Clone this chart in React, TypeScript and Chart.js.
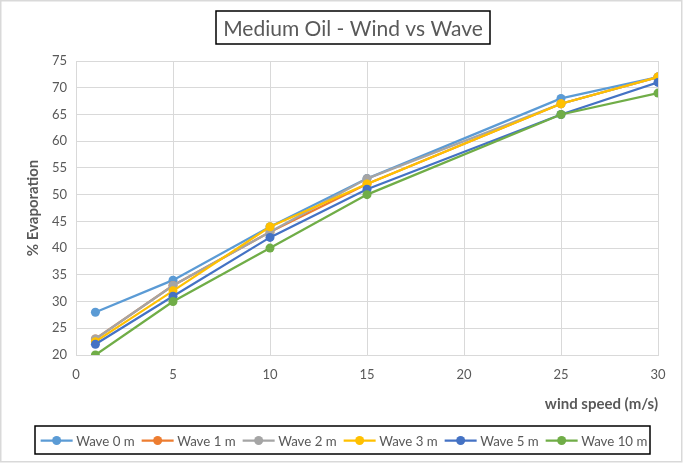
import React, { useEffect, useRef } from "react";
import { Chart, registerables } from "chart.js";

Chart.register(...registerables);

const TITLE = "Medium Oil - Wind vs Wave";
const X_TITLE = "wind speed (m/s)";
const Y_TITLE = "% Evaporation";
const windSpeeds = [1, 5, 10, 15, 25, 30];
const seriesNames = ["Wave 0 m", "Wave 1 m", "Wave 2 m", "Wave 3 m", "Wave 5 m", "Wave 10 m"];
const seriesColors = ["#5B9BD5", "#ED7D31", "#A5A5A5", "#FFC000", "#4472C4", "#70AD47"];
const wave0 = [28, 34, 44, 53, 68, 72];
const wave1 = [23, 33, 43, 52, 67, 72];
const wave2 = [23, 33, 43, 53, 67, 72];
const wave3 = [22.5, 32, 44, 52, 67, 72];
const wave5 = [22, 31, 42, 51, 65, 71];
const wave10 = [20, 30, 40, 50, 65, 69];
const seriesValues = [wave0, wave1, wave2, wave3, wave5, wave10];

const FONT = "Lato, 'Open Sans', sans-serif";
const TEXT_COLOR = "#595959";

const decorPlugin = {
  id: "decor",
  afterDraw(chart: any) {
    const ctx = chart.ctx as CanvasRenderingContext2D;
    ctx.save();
    // outer border
    ctx.strokeStyle = "#d9d9d9";
    ctx.lineWidth = 1.5;
    ctx.strokeRect(0.75, 0.75, 681, 461);

    // title
    ctx.font = `21px ${FONT}`;
    const tw = ctx.measureText(TITLE).width;
    const tcx = 353;
    const tcy = 28;
    ctx.fillStyle = TEXT_COLOR;
    ctx.textAlign = "center";
    ctx.textBaseline = "middle";
    ctx.fillText(TITLE, tcx, tcy + 1);
    ctx.strokeStyle = "#000000";
    ctx.lineWidth = 1.5;
    ctx.strokeRect(Math.round(tcx - tw / 2 - 7), 11, Math.round(tw + 14), 33);

    // legend
    const marker = 32;
    const gapT = 3.5;
    const gapI = 7;
    const targetTotal = 607;
    ctx.font = `13px ${FONT}`;
    const w13 = seriesNames.reduce((a, nm) => a + ctx.measureText(nm).width, 0);
    const fixed = seriesNames.length * (marker + gapT) + (seriesNames.length - 1) * gapI;
    const fs = Math.max(11, Math.min(16, (13 * (targetTotal - fixed)) / w13));
    ctx.font = `${fs}px ${FONT}`;
    const widths = seriesNames.map((n) => ctx.measureText(n).width);
    let total = fixed;
    widths.forEach((w) => (total += w));
    let x = 344 - total / 2;
    const ly = 440.5;
    ctx.strokeStyle = "#000000";
    ctx.lineWidth = 1.5;
    ctx.strokeRect(Math.round(x - 6), 426, Math.round(total + 8), 28);
    ctx.textAlign = "left";
    seriesNames.forEach((n, i) => {
      ctx.strokeStyle = seriesColors[i];
      ctx.lineWidth = 2.25;
      ctx.beginPath();
      ctx.moveTo(x, ly);
      ctx.lineTo(x + marker, ly);
      ctx.stroke();
      ctx.fillStyle = seriesColors[i];
      ctx.beginPath();
      ctx.arc(x + marker / 2, ly, 4.5, 0, Math.PI * 2);
      ctx.fill();
      ctx.fillStyle = TEXT_COLOR;
      ctx.fillText(n, x + marker + gapT, ly + 1);
      x += marker + gapT + widths[i] + gapI;
    });
    ctx.restore();
  },
};

export default function App() {
  const ref = useRef<HTMLCanvasElement | null>(null);
  useEffect(() => {
    if (!ref.current) return;
    const n = seriesNames.length;
    const chart = new Chart(ref.current, {
      type: "line",
      data: {
        datasets: seriesNames.map((name, i) => ({
          label: name,
          data: windSpeeds.map((x, j) => ({ x, y: seriesValues[i][j] })),
          borderColor: seriesColors[i],
          backgroundColor: seriesColors[i],
          borderWidth: 2.25,
          pointRadius: 4.5,
          pointHoverRadius: 4.5,
          pointBorderWidth: 0,
          tension: 0,
          order: n - i,
        })),
      },
      options: {
        responsive: false,
        animation: false,
        devicePixelRatio: 1,
        layout: { padding: { top: 61, right: 27, bottom: 50, left: 0 } },
        plugins: {
          legend: { display: false },
          title: { display: false },
          tooltip: { enabled: false },
        },
        scales: {
          x: {
            type: "linear",
            min: 0,
            max: 30,
            afterFit: (s: any) => {
              s.height = 60;
            },
            ticks: {
              stepSize: 5,
              padding: 12,
              color: TEXT_COLOR,
              font: { family: FONT, size: 13 },
            },
            grid: { color: "#d9d9d9", drawTicks: false, lineWidth: 1 },
            border: { color: "#d9d9d9" },
            title: {
              display: true,
              text: X_TITLE,
              align: "end",
              color: TEXT_COLOR,
              font: { family: FONT, size: 15, weight: "bold" },
              padding: { top: 0, bottom: 2 },
            },
          },
          y: {
            type: "linear",
            min: 20,
            max: 75,
            afterFit: (s: any) => {
              s.width = 76;
            },
            ticks: {
              stepSize: 5,
              padding: 9,
              color: TEXT_COLOR,
              font: { family: FONT, size: 13 },
            },
            grid: { color: "#d9d9d9", drawTicks: false, lineWidth: 1 },
            border: { color: "#d9d9d9" },
            title: {
              display: true,
              text: Y_TITLE,
              color: TEXT_COLOR,
              font: { family: FONT, size: 15, weight: "bold" },
              padding: { top: 24, bottom: 0 },
            },
          },
        },
      },
      plugins: [decorPlugin],
    });
    return () => chart.destroy();
  }, []);
  return (
    <div style={{ position: "absolute", left: 0, top: 0, width: 685, height: 465, background: "#fff" }}>
      <canvas ref={ref} width={685} height={465} />
    </div>
  );
}
